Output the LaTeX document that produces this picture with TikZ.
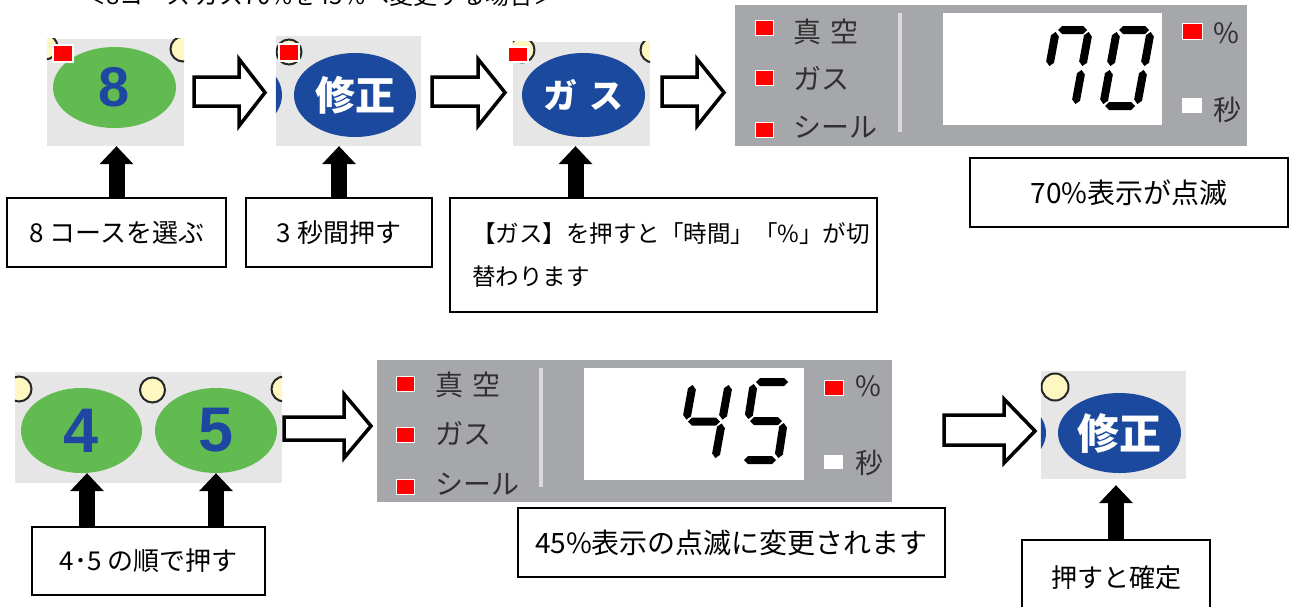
\documentclass[tikz,border=0pt]{standalone}
\usepackage{fontspec}
\setmainfont{Noto Sans CJK JP}
\newfontfamily\arialf{Liberation Sans}
\usetikzlibrary{shapes.geometric,arrows.meta,calc}
\definecolor{btngray}{HTML}{E6E6E6}
\definecolor{btnblue}{HTML}{1B499D}
\definecolor{btngreen}{HTML}{62BB50}
\definecolor{numblue}{HTML}{1D47A1}
\definecolor{panelgray}{HTML}{A6A7AB}
\definecolor{bargray}{HTML}{DADADA}
\definecolor{paneltext}{HTML}{303030}
\definecolor{ledyellow}{HTML}{FFF7C2}
\definecolor{ledred}{HTML}{FF0000}

% one segment of a seven-segment digit
\newcommand\sgm[2]{%
  \path ($(#1)!2pt!(#2)$) coordinate (sa) ($(#2)!2pt!(#1)$) coordinate (sb);
  \fill[black] (sa) -- ($(sa)!4pt!(sb)!4pt!90:(sb)$) -- ($(sb)!4pt!(sa)!4pt!-90:(sa)$)
    -- (sb) -- ($(sb)!4pt!(sa)!4pt!90:(sa)$) -- ($(sa)!4pt!(sb)!4pt!-90:(sb)$) -- cycle;}
% corners of a digit: x, y (top left), width, height, slant
\newcommand\dcoords[5]{%
  \coordinate (TL) at (#1,#2);
  \coordinate (TR) at ({#1+#3},#2);
  \coordinate (ML) at ({#1-#5/2},{#2+#4/2});
  \coordinate (MR) at ({#1+#3-#5/2},{#2+#4/2});
  \coordinate (BL) at ({#1-#5},{#2+#4});
  \coordinate (BR) at ({#1+#3-#5},{#2+#4});}
% hollow block arrow: tail x, head x, tip x, shaft top, shaft bottom, head top, head bottom
\newcommand\harrow[7]{%
  \draw[hollowar] (#1,#4) -- (#2,#4) -- (#2,#6) -- (#3,{(#6+#7)/2}) -- (#2,#7) -- (#2,#5) -- (#1,#5) -- cycle;}

\tikzset{
  btnbg/.style={rectangle, fill=btngray, inner sep=0pt},
  greenbtn/.style={ellipse, fill=btngreen, inner sep=0pt, text=numblue},
  bluebtn/.style={ellipse, fill=btnblue, inner sep=0pt, text=white, font=\bfseries\fontsize{40pt}{40pt}\selectfont},
  led/.style={circle, fill=ledyellow, draw=black!85, line width=2pt, minimum size=25pt, inner sep=0pt},
  redsq/.style={fill=ledred, draw=white, line width=2pt},
  panelsq/.style={fill=ledred, draw=white, line width=1pt},
  panelbox/.style={rectangle, fill=panelgray, inner sep=0pt},
  dispbox/.style={rectangle, fill=white, inner sep=0pt},
  plabel/.style={anchor=west, text=paneltext, inner sep=0pt, font=\fontsize{28pt}{28pt}\selectfont},
  infobox/.style={rectangle, draw=black, line width=1.3pt, fill=white, inner sep=0pt, font=\fontsize{26pt}{30pt}\selectfont},
  pushar/.style={line width=16pt, -{Triangle[width=34pt,length=18pt,line width=0pt]}},
  hollowar/.style={fill=white, draw=black, line width=3.5pt},
}

\begin{document}
\begin{tikzpicture}[x=1pt,y=-1pt]
\clip (0,0) rectangle (1291,606);
\fill[white] (0,0) rectangle (1291,606);

% title (cut off at the top, as in the reference)
\node[anchor=base west, inner sep=0pt, font=\fontsize{24pt}{24pt}\selectfont] (title) at (82,4) {＜8コース ガス70\%を45\%へ変更する場合＞};

% ---------- top row buttons ----------
\node[btnbg, minimum width=137pt, minimum height=107pt] (b8) at (115.5,92.5) {};
\begin{scope}
  \clip (b8.north west) rectangle (b8.south east);
  \node[led] (l8a) at (45,47) {};
  \node[led] (l8b) at (183,49) {};
  \node[greenbtn, minimum width=123pt, minimum height=81pt, font=\arialf\bfseries\fontsize{56pt}{56pt}\selectfont] (e8) at (114.5,87.5) {8};
\end{scope}
\draw[redsq] (53,45) rectangle (73,62);

\node[btnbg, minimum width=145pt, minimum height=110pt] (bS) at (348.5,91) {};
\begin{scope}
  \clip (bS.north west) rectangle (bS.south east);
  \node[ellipse, fill=btnblue, minimum width=122pt, minimum height=84pt] (eSL) at (221,95) {};
  \node[led] (lS) at (289,52) {};
  \node[bluebtn, minimum width=122pt, minimum height=84pt] (eS) at (355,95) {修正};
\end{scope}
\draw[redsq] (279,44) rectangle (299,61);

\node[btnbg, minimum width=137pt, minimum height=104pt] (bG) at (581.5,94) {};
\begin{scope}
  \clip (bG.north west) rectangle (bG.south east);
  \node[led] (lGa) at (522,50) {};
  \node[led] (lGb) at (653,50) {};
  \node[bluebtn, minimum width=123pt, minimum height=84pt, font=\bfseries\fontsize{34pt}{34pt}\selectfont] (eG) at (583.5,95) {ガ\hspace{12pt}ス};
\end{scope}
\draw[redsq] (508,47) rectangle (528,62);

% hollow arrows, top row
\harrow{194}{239}{265}{77}{106}{59}{126}
\harrow{432}{478}{505}{77}{106}{59}{126}
\harrow{662}{697}{724}{77}{106}{59}{126}

% ---------- panel 1 ----------
\node[panelbox, minimum width=512pt, minimum height=141pt] (pan1) at (991,75.5) {};
\draw[panelsq] (755,20) rectangle (773,35);
\draw[panelsq] (755,70) rectangle (773,85);
\draw[panelsq] (755,122) rectangle (773,137);
\node[plabel] (p1a) at (793,32) {真\hspace{9pt}空};
\node[plabel] (p1b) at (793,78) {ガス};
\node[plabel] (p1c) at (793,127) {シール};
\fill[bargray] (898,13) rectangle (902,132);
\node[dispbox, minimum width=219pt, minimum height=112pt] (d1) at (1052.5,69) {};
\dcoords{1056}{30}{33}{76}{14}
\sgm{TL}{TR}\sgm{TR}{MR}\sgm{MR}{BR}\sgm{TL}{ML}
\dcoords{1117}{30}{34}{76}{14}
\sgm{TL}{TR}\sgm{TR}{MR}\sgm{MR}{BR}\sgm{BL}{BR}\sgm{ML}{BL}\sgm{TL}{ML}
\draw[panelsq] (1182,23) rectangle (1202,39);
\node[plabel] (p1p) at (1213,33) {\%};
\fill[white] (1182,98) rectangle (1202,113);
\node[plabel] (p1s) at (1213,109.5) {秒};

% ---------- top row boxes ----------
\node[infobox, minimum width=219pt, minimum height=69pt] (box8) at (116.5,232.5) {8 コースを選ぶ};
\node[infobox, minimum width=186pt, minimum height=69pt] (box3) at (339,232.5) {3 秒間押す};
\node[infobox, minimum width=427pt, minimum height=114pt, text width=383pt, align=left, font=\fontsize{23.5pt}{43pt}\selectfont] (boxG) at (663.5,255) {【ガス】を押すと「時間」「\%」が切\\替わります};
\node[infobox, minimum width=318pt, minimum height=69pt, font=\fontsize{28pt}{30pt}\selectfont] (box70) at (1129,192.5) {70\%表示が点滅};

\draw[pushar] (box8.north) -- (box8.north |- b8.south);
\draw[pushar] (box3.north) -- (box3.north |- bS.south);
\coordinate (gtip) at ($(bG.south)+(-6,0)$);
\draw[pushar] (boxG.north -| gtip) -- (gtip);

% ---------- bottom row ----------
\node[btnbg, minimum width=267pt, minimum height=111pt] (b45) at (148.5,427.5) {};
\begin{scope}
  \clip (b45.north west) rectangle (b45.south east);
  \node[led] (l4a) at (19,389) {};
  \node[led] (l4b) at (152.5,390) {};
  \node[led] (l4c) at (284,389) {};
  \node[greenbtn, minimum width=121pt, minimum height=85pt, font=\arialf\bfseries\fontsize{63pt}{63pt}\selectfont] (e4) at (81.5,430.5) {4};
  \node[greenbtn, minimum width=122pt, minimum height=85pt, font=\arialf\bfseries\fontsize{63pt}{63pt}\selectfont] (e5) at (216,430.5) {5};
\end{scope}

\harrow{284}{344}{371}{417}{440}{394}{458}

% ---------- panel 2 ----------
\node[panelbox, minimum width=515pt, minimum height=142pt] (pan2) at (634.5,431) {};
\draw[panelsq] (396,376) rectangle (414,391);
\draw[panelsq] (396,427) rectangle (414,442);
\draw[panelsq] (396,479) rectangle (414,494);
\node[plabel] (p2a) at (435,385) {真\hspace{9pt}空};
\node[plabel] (p2b) at (435,433) {ガス};
\node[plabel] (p2c) at (435,484) {シール};
\fill[bargray] (539,368) rectangle (543,487);
\node[dispbox, minimum width=220pt, minimum height=112pt] (d2) at (694,424) {};
\dcoords{693}{383}{36}{77}{14}
\sgm{TL}{ML}\sgm{ML}{MR}\sgm{TR}{MR}\sgm{MR}{BR}
\dcoords{754}{382}{36}{78}{12}
\sgm{TL}{TR}\sgm{TL}{ML}\sgm{ML}{MR}\sgm{MR}{BR}\sgm{BL}{BR}
\draw[panelsq] (824,380) rectangle (843,395);
\node[plabel] (p2p) at (855,386) {\%};
\fill[white] (824,455) rectangle (843,469);
\node[plabel] (p2s) at (855,463) {秒};

\harrow{944}{1004}{1035}{415}{445}{399}{463}

\node[btnbg, minimum width=145pt, minimum height=108pt] (bK) at (1113.5,425) {};
\begin{scope}
  \clip (bK.north west) rectangle (bK.south east);
  \node[ellipse, fill=btnblue, minimum width=123pt, minimum height=80pt] (eKL) at (984.5,433) {};
  \node[led, minimum size=27pt] (lK) at (1055,387) {};
  \node[bluebtn, minimum width=123pt, minimum height=80pt, font=\bfseries\fontsize{42pt}{42pt}\selectfont] (eK) at (1119.5,433) {修正};
\end{scope}

% ---------- bottom boxes ----------
\node[infobox, minimum width=233pt, minimum height=68pt] (box45s) at (148.5,561) {4･5 の順で押す};
\node[infobox, minimum width=427pt, minimum height=69pt, font=\fontsize{28pt}{30pt}\selectfont] (box45d) at (731.5,542.5) {45\%表示の点滅に変更されます};
\node[infobox, minimum width=188pt, minimum height=76pt] (boxK) at (1116,578) {押すと確定};

\coordinate (t4) at ($(e4.south)+(5.5,0)$);
\draw[pushar] (box45s.north -| t4) -- (t4);
\draw[pushar] (box45s.north -| e5.south) -- (e5.south);
\draw[pushar, shorten >=6pt] (boxK.north) -- (boxK.north |- bK.south);
\end{tikzpicture}
\end{document}
